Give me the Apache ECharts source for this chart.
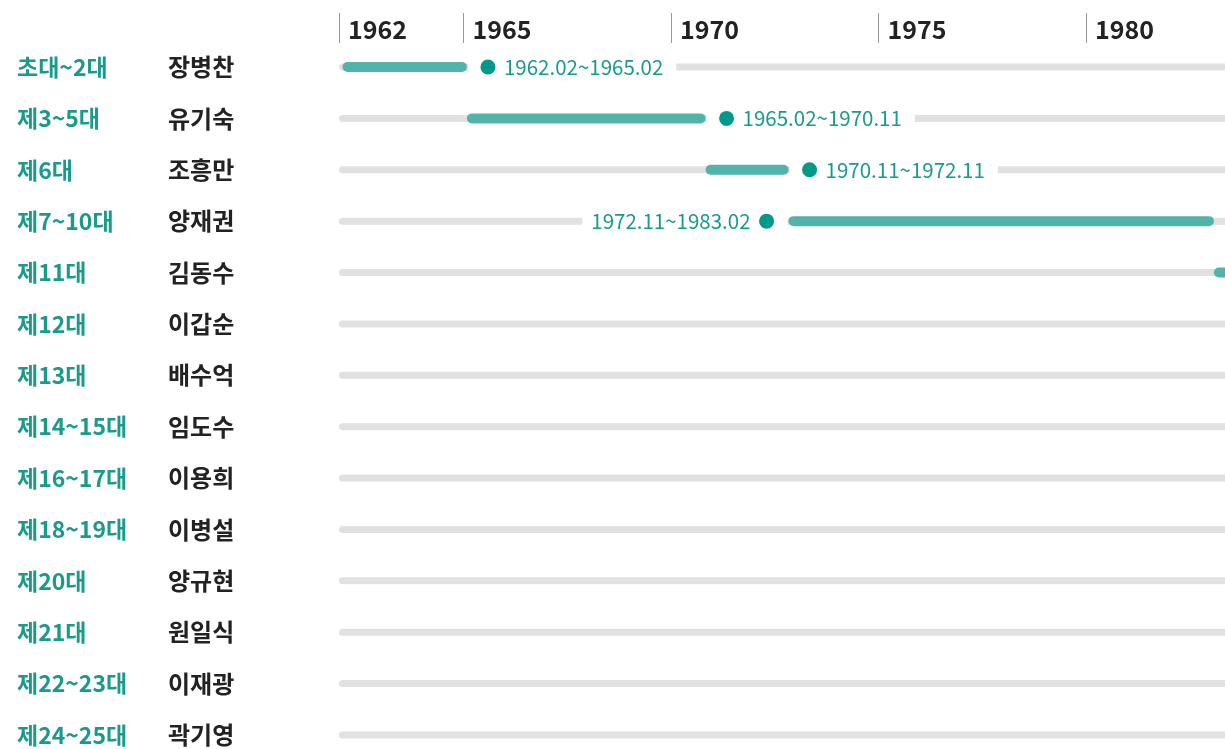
<!DOCTYPE html>
<html>
<head>
<meta charset="utf-8">
<script src="https://cdn.jsdelivr.net/npm/echarts@6/dist/echarts.min.js"></script>
<style>
  html, body { margin: 0; padding: 0; background: #fff; }
  #main { width: 1225px; height: 749px; }
</style>
</head>
<body>
<div id="main"></div>
<script>
var ordinals = ['초대~2대', '제3~5대', '제6대', '제7~10대', '제11대', '제12대', '제13대',
                '제14~15대', '제16~17대', '제18~19대', '제20대', '제21대', '제22~23대', '제24~25대'];
var names = ['장병찬', '유기숙', '조흥만', '양재권', '김동수', '이갑순', '배수억',
             '임도수', '이용희', '이병설', '양규현', '원일식', '이재광', '곽기영'];
// term start / end as 'YYYY.MM' (only the visible part of the picture)
var termStart = ['1962.02', '1965.02', '1970.11', '1972.11', '1983.02'];
var termEnd   = ['1965.02', '1970.11', '1972.11', '1983.02', null];
var yearTicks = [1962, 1965, 1970, 1975, 1980];

var X_MIN = 1962, X_MAX = 1983.35;
var FONT = '"Noto Sans CJK KR", "Noto Sans", sans-serif';

function toYear(s) {
  var p = s.split('.');
  return +p[0] + (+p[1] - 1) / 12;
}

var myChart = echarts.init(document.getElementById('main'));

var trackData = names.map(function (n, i) { return [i, X_MIN, X_MAX]; });
var termData = termStart.map(function (s, i) {
  var e = termEnd[i];
  return [i, toYear(s), e ? toYear(e) : X_MAX, e ? s + '~' + e : ''];
});

// bars that run to the axis end continue past the picture edge
function endX(api, v, row) {
  var x = api.coord([v, row])[0];
  return v >= X_MAX ? x + 12 : x;
}

function renderTrack(params, api) {
  var a = api.coord([api.value(1), api.value(0)]);
  var bx = endX(api, api.value(2), api.value(0));
  return {
    type: 'rect',
    shape: { x: a[0], y: a[1] - 3.5, width: bx - a[0], height: 7, r: 3.5 },
    style: { fill: '#e1e1e1' }
  };
}

function renderTerm(params, api) {
  var a = api.coord([api.value(1), api.value(0)]);
  var bx = endX(api, api.value(2), api.value(0));
  var label = api.value(3);
  var children = [];
  var dotX;
  if (label) {
    var right = bx + 240 < 1225;
    dotX = right ? bx + 21 : a[0] - 22;
    children.push({
      type: 'text',
      style: {
        x: right ? bx + 1 : a[0] - 1,
        y: a[1],
        text: label,
        align: right ? 'left' : 'right',
        verticalAlign: 'middle',
        fill: '#1a9a8c',
        fontSize: 20.5,
        fontFamily: FONT,
        backgroundColor: '#fff',
        padding: right ? [4, 13, 4, 36] : [4, 37, 4, 9]
      }
    });
  }
  children.push({
    type: 'rect',
    shape: { x: a[0], y: a[1] - 5, width: bx - a[0], height: 10, r: 5 },
    style: { fill: '#52b3aa' }
  });
  if (label) {
    children.push({
      type: 'circle',
      shape: { cx: dotX, cy: a[1], r: 7.5 },
      style: { fill: '#00998a' }
    });
  }
  return { type: 'group', children: children };
}

var option = {
  animation: false,
  backgroundColor: '#fff',
  grid: { left: 339, right: 0, top: 67, bottom: 14 },
  xAxis: {
    type: 'value',
    position: 'top',
    offset: 24,
    min: X_MIN,
    max: X_MAX,
    splitLine: { show: false },
    axisLine: { show: false },
    axisTick: { show: true, customValues: yearTicks, length: 30, lineStyle: { color: '#999', width: 1 } },
    axisLabel: {
      customValues: yearTicks,
      formatter: function (v) { return String(v); },
      align: 'left',
      verticalAlign: 'middle',
      margin: 14,
      padding: [0, 0, 0, 9],
      fontSize: 25,
      fontWeight: 'bold',
      fontFamily: FONT,
      color: '#222'
    }
  },
  yAxis: [{
    type: 'category',
    data: ordinals,
    inverse: true,
    boundaryGap: false,
    axisLine: { show: false },
    axisTick: { show: false },
    axisLabel: { align: 'left', margin: 322, fontSize: 23, fontWeight: 'bold', fontFamily: FONT, color: '#1a9a8a' }
  }, {
    type: 'category',
    data: names,
    inverse: true,
    boundaryGap: false,
    position: 'left',
    offset: 0,
    axisLine: { show: false },
    axisTick: { show: false },
    axisLabel: { align: 'left', margin: 171, fontSize: 24, fontWeight: 'bold', fontFamily: FONT, color: '#222' }
  }],
  series: [{
    type: 'custom',
    renderItem: renderTrack,
    encode: { x: [1, 2], y: 0 },
    data: trackData,
    clip: false,
    silent: true
  }, {
    type: 'custom',
    renderItem: renderTerm,
    encode: { x: [1, 2], y: 0 },
    data: termData,
    clip: false,
    silent: true
  }]
};
myChart.setOption(option);
</script>
</body>
</html>
